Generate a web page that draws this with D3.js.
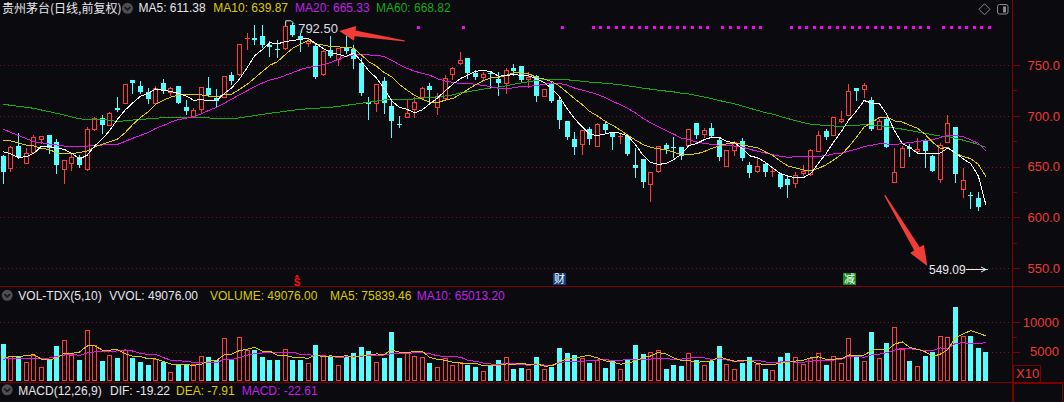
<!DOCTYPE html>
<html>
<head>
<meta charset="utf-8">
<script src="https://cdn.jsdelivr.net/npm/d3@7"></script>
<style>
  html, body { margin: 0; padding: 0; background: #0b0b0f; overflow: hidden; }
  svg { display: block; }
  text { font-family: "Liberation Sans", Arial, "Noto Sans CJK SC", sans-serif; }
</style>
</head>
<body>
<div id="chart"></div>
<script>
// daily bars (price, 前复权)
const open = [660.4,648.3,670.3,653.9,664.7,677.5,681.1,673.9,647.7,653.9,659.2,647.7,686.7,697.5,691.3,707.4,712.3,735.3,729.4,723.8,
  712.3,732.6,723.8,729.4,708.4,700.2,706.4,727.1,717.2,718.9,740.2,740.8,775.3,776.6,778.6,769.7,765.4,766.4,789.4,778.6,
  772,768.7,740.8,764.8,755.6,767,765.4,752.3,713.3,712.3,734.3,709.7,691.6,699.2,706.4,718.9,729.4,709,717.2,741.2,
  751.7,756.6,742.5,738.5,741.8,736.2,732,747.4,749,735.9,739.2,719.5,732,715.6,694.9,676.9,671.9,687,670.6,692,
  682.8,678.8,680.1,651.6,657.5,632.6,646,671.3,669,669,671.3,692.6,681.8,688.3,676.2,651,666.4,675.6,651.6,645.7,
  652.6,645.1,642.8,637.5,633.6,644.1,642.5,665.7,685.1,681.1,694.6,700.8,727.1,726.1,715.6,686.7,696.6,634.6,650,669.7,
  665.7,675.2,660.5,637.5,674.6,688.7,627.7,621.8,618.8,549.09];
const high = [661,670.3,682.8,668,681.1,679.8,681.1,677.2,656.5,663.1,661.5,689.3,699.2,700.8,704.1,718.9,731.3,735.3,734.3,727.1,
  729.4,736.2,728.7,729.4,715.6,707.4,728.7,738.5,726.1,739.5,743.5,770.7,781.8,789.4,789.4,774,774.6,792.5,791.7,781.2,
  775.3,771.3,764.8,778.9,766.4,778.6,769.7,756.6,718.9,731,738.5,715.6,699.8,715.6,718.9,728.7,732,722.8,740.2,748.4,
  762.5,756.6,745.1,743.5,743.5,743.5,746.7,750.7,749,743.5,740.2,726.1,733.6,717.2,694.9,683.8,686.1,688.7,693.3,694.3,
  682.8,682.8,680.1,668,657.5,644.4,670.6,672.9,678.8,669,686.7,692.6,687.7,692.6,677.9,666.4,675.6,677.9,654.9,658.2,
  654.9,650,644.1,641.8,645.1,651.6,667.4,685.1,686.7,699.2,705.1,731.3,727.7,732.6,718.2,696.6,699.2,668,670.3,672.3,
  677.9,676.9,661.5,673.6,700.8,688.7,649,625.3,624.6,549.09];
const low = [634.2,646,658.2,653.2,663.1,673,663.1,644.1,634.2,646.7,650,646.7,686.1,682.8,691,705.1,712.3,722.8,722.8,712.3,
  712.3,722.1,720.5,712.3,701.8,699.2,704.1,720.5,709,718.9,731.3,740.2,765.8,770.7,768.1,758.9,757.6,765.8,778.6,764.1,
  768.7,736.9,740.2,758.2,750,762,746.7,720.5,696.9,705.1,703.1,678.8,688.7,699.2,699.2,718.2,713.9,701.8,715.6,735.9,
  750.7,736.9,735.9,735.9,728.7,720.5,722.8,740.2,733.6,728.7,714.9,719.5,713.9,688.3,676.9,662.4,662.4,672.3,670.6,684.4,
  667,672.9,661.5,640.1,630.3,616,645.1,663.8,659.8,657.2,670.3,677.9,679.5,679.5,656.5,651,661.5,656.5,640.1,645.1,
  641.1,641.1,628.7,620.5,629.6,641.8,641.8,665.7,677.2,681.1,693.6,700.8,715.6,718.9,686.1,686.7,669,634.6,650,660.8,
  665.7,650,645.7,635.2,674.6,635.2,620.5,609,607.6,549.09];
const close = [645,669,659.2,663.1,678.8,679.8,668,651.6,656.5,659.8,651.6,686.7,697.5,691,702.5,706.1,731.3,732.6,723.8,716.6,
  727.7,724.4,727.7,713,705.1,705.7,728.7,720.5,714.9,739.5,734.6,770.7,776.6,774.6,769.7,768.1,764.5,788.4,779.5,775.3,
  774,738.5,763.8,759.2,766.4,764,755.6,722.8,712,731,712.3,695.2,691,702.5,713.6,727.1,725.4,719.5,736.9,746.7,
  754.9,742.5,737.9,741.2,740.8,732.6,745.1,744.4,735.3,738.5,719.5,726.1,714.6,695.9,679.5,669.7,686.1,676.9,691.6,686.1,
  679.5,680.1,662.4,649,634.6,644.4,670.6,667.4,668,660.5,686.7,681.1,686.1,680.1,659.8,666.4,674.6,658.2,644.1,650.6,
  645.1,645.7,630.3,632,641.8,645.7,666.4,681.1,678.8,699.2,696.9,724.4,724.4,730.3,686.7,694.9,669.7,644.4,668,667.4,
  667.4,665.4,645.7,671.3,692.6,642.4,637,621.2,610.5,549.09];
// volume in axis units (x10 hands)
const volume = [6219,4303,4129,3258,4477,2387,3548,5871,7032,4477,3606,8658,6045,3432,4477,3955,5174,3897,3142,2735,
  3723,3142,1574,2851,2735,2851,4303,4129,3548,7206,3548,7381,5174,5290,4013,3548,3606,5464,3548,3606,
  3026,6045,4477,4129,2677,4129,4710,5755,5058,3258,3839,8368,3839,4710,4303,4013,2967,2387,3897,2735,
  3258,2735,2387,1690,2677,3606,4129,2096,2270,1980,4129,2096,2387,5522,4710,4477,3839,2967,3548,2212,
  3432,2096,3548,6045,4651,4884,5174,2096,2735,2561,4826,3548,2735,3432,5871,2851,1980,2967,4129,2851,
  2096,1864,4129,4826,4013,2851,3897,4826,2735,4245,3084,7206,4013,3432,8310,3897,6394,9129,5464,3432,
  2503,4303,5000,7555,7381,12549,7555,7613,5522,4908];

// moving-average values before a full window exists: [bar index, value]
const ma5Head = [[0,664.7],[1,662.5],[2,659],[3,659.8]];
const ma10Head = [[0,675.9],[1,675.2],[2,673.3],[3,671.3],[4,670.3],[5,668],[6,667],[7,663.5],[8,662.5]];
const ma20Head = [[0,686.7],[4,674.6],[6,672.3],[8,670.3],[10,669.7],[13,671.3],[15,671.9],[17,677.9]];
const ma60Head = [[0,711.3],[4,707.4],[8,700.8],[10,696.9],[13,696.6],[15,694.3],[17,695.9],[21,698.2],[26,698.2],
  [30,696.9],[35,702.5],[39,706.4],[43,708.4],[46,711.3],[50,715.6],[54,716.6],[58,719.5]];
const vma5Head = [[0,4013],[1,4100],[2,4129],[3,4300]];
const vma10Head = [[0,3723],[2,3780],[4,3839],[6,3897],[8,4400]];

// signal dots on top row, and event badges
const signalDots = [54,60,73,77,78,79,80,81,82,83,84,85,86,87,88,89,90,91,92,94,95,96,97,98,99,
  103,104,105,106,107,108,109,110,111,112,113,114,115,116,117,118,119,120,121,123,124,125,126,127,128,129];
const badges = [{i: 73, t: '财', fill: '#0f3f7c'}, {i: 111, t: '减', fill: '#168c16'}];
const priceTicks = [550, 600, 650, 700, 750];
const volTicks = [5000, 10000];

const W = 1064, H = 402;
const AX = 1012;
const BG = '#0b0b0f', RED = '#ff3c3c', CYAN = '#54ffff', LINE = '#7c0000', GRID = '#6e1818', LABEL = '#ec3a36';
const C_MA5 = '#ffffff', C_MA10 = '#dcca00', C_MA20 = '#e414e4', C_MA60 = '#16aa16';

const N = close.length;
const xb = d3.scaleBand().domain(d3.range(N)).range([-0.5, 989.8]).paddingInner(0.3).paddingOuter(0.15);
const xc = i => xb(i) + xb.bandwidth() / 2;
const xf = d3.scaleLinear().domain([0, N - 1]).range([xc(0), xc(N - 1)]);
const y = d3.scaleLinear().domain([550, 750]).range([268.3, 65]);
const vy = d3.scaleLinear().domain([0, 10000]).range([381, 322]);

const svg = d3.select('#chart').append('svg').attr('width', W).attr('height', H);
svg.append('rect').attr('width', W).attr('height', H).attr('fill', BG);

// grid
const grid = svg.append('g').attr('stroke', GRID).attr('stroke-dasharray', '1,3').attr('shape-rendering', 'crispEdges');
grid.selectAll('.pg').data(priceTicks).enter().append('line')
  .attr('x1', 0).attr('x2', AX).attr('y1', d => Math.round(y(d)) + 0.5).attr('y2', d => Math.round(y(d)) + 0.5);
grid.selectAll('.vg').data(volTicks).enter().append('line')
  .attr('x1', 0).attr('x2', AX).attr('y1', d => Math.round(vy(d)) + 0.5).attr('y2', d => Math.round(vy(d)) + 0.5);

// panel frame
const frame = svg.append('g').attr('stroke', LINE).attr('shape-rendering', 'crispEdges');
frame.append('line').attr('x1', 0).attr('x2', W).attr('y1', 286.5).attr('y2', 286.5);
frame.append('line').attr('x1', 0).attr('x2', W).attr('y1', 382.5).attr('y2', 382.5);
frame.append('line').attr('x1', AX + 0.5).attr('x2', AX + 0.5).attr('y1', 0).attr('y2', H);
frame.append('rect').attr('x', AX + 1.5).attr('y', 365.5).attr('width', 27).attr('height', 17).attr('fill', 'none');
frame.append('rect').attr('x', AX + 1.5).attr('y', 383.5).attr('width', 49).attr('height', 20).attr('fill', 'none');

const isUp = i => close[i] > open[i] || (close[i] === open[i] && i > 0 && close[i] >= close[i - 1]);
const left = i => Math.round(xc(i) - 2.5);
const py = v => Math.round(y(v));

// candles
const candles = svg.append('g').attr('shape-rendering', 'crispEdges');
d3.range(N).forEach(i => {
  const g = candles.append('g');
  const x0 = left(i), wx = x0 + 2.5;
  if (isUp(i)) {
    const top = py(close[i]), bot = py(open[i]);
    g.append('line').attr('x1', wx).attr('x2', wx).attr('y1', py(high[i])).attr('y2', top).attr('stroke', RED);
    g.append('line').attr('x1', wx).attr('x2', wx).attr('y1', bot).attr('y2', py(low[i]) + 1).attr('stroke', RED);
    if (bot - top < 2) {
      g.append('line').attr('x1', x0).attr('x2', x0 + 5).attr('y1', top + 0.5).attr('y2', top + 0.5).attr('stroke', RED);
    } else {
      g.append('rect').attr('x', x0 + 0.5).attr('y', top + 0.5).attr('width', 4).attr('height', bot - top)
        .attr('fill', 'none').attr('stroke', RED);
    }
  } else {
    const top = py(open[i]), bot = py(close[i]);
    g.append('line').attr('x1', wx).attr('x2', wx).attr('y1', py(high[i])).attr('y2', py(low[i]) + 1).attr('stroke', CYAN);
    g.append('rect').attr('x', x0).attr('y', top).attr('width', 5).attr('height', Math.max(1, bot - top)).attr('fill', CYAN);
  }
});

// moving averages
function maPoints(src, n, head) {
  const pts = head.map(([i, v]) => ({i, v}));
  for (let i = n - 1; i < src.length; i++) pts.push({i, v: d3.mean(src.slice(i - n + 1, i + 1))});
  return pts;
}
const priceLine = d3.line().x(d => xf(d.i)).y(d => y(d.v));
const volLine = d3.line().x(d => xf(d.i)).y(d => vy(d.v));
const maG = svg.append('g').attr('fill', 'none').attr('stroke-width', 1).attr('shape-rendering', 'crispEdges');
[[60, ma60Head, C_MA60], [20, ma20Head, C_MA20], [10, ma10Head, C_MA10], [5, ma5Head, C_MA5]].forEach(([n, head, c]) => {
  maG.append('path').attr('d', priceLine(maPoints(close, n, head))).attr('stroke', c);
});

// volume bars
const vols = svg.append('g').attr('shape-rendering', 'crispEdges');
d3.range(N).forEach(i => {
  const x0 = left(i), top = Math.round(vy(volume[i])), bot = Math.round(vy(0));
  if (isUp(i)) {
    vols.append('rect').attr('x', x0 + 0.5).attr('y', top + 0.5).attr('width', 4).attr('height', bot - top - 1)
      .attr('fill', 'none').attr('stroke', RED);
  } else {
    vols.append('rect').attr('x', x0).attr('y', top).attr('width', 5).attr('height', bot - top).attr('fill', CYAN);
  }
});
const vmaG = svg.append('g').attr('fill', 'none').attr('stroke-width', 1).attr('shape-rendering', 'crispEdges');
[[10, vma10Head, C_MA20], [5, vma5Head, C_MA10]].forEach(([n, head, c]) => {
  vmaG.append('path').attr('d', volLine(maPoints(volume, n, head))).attr('stroke', c);
});

// signal dots
svg.append('g').selectAll('rect').data(signalDots).enter().append('rect')
  .attr('x', d => Math.round(xc(d) + 3) - 1).attr('y', 26).attr('width', 3).attr('height', 3).attr('fill', '#ff00ff');

// event badges along bottom of price panel
badges.forEach(b => {
  const cx = Math.round(xc(b.i));
  svg.append('rect').attr('x', cx - 6).attr('y', 273).attr('width', 13).attr('height', 12).attr('fill', b.fill);
  svg.append('text').attr('x', cx + 0.5).attr('y', 283).attr('text-anchor', 'middle').attr('fill', '#fff')
    .style('font-family', '"Noto Sans CJK SC"').style('font-size', '11px').text(b.t);
});
{
  const sx = Math.round(xc(38)) + 4;
  svg.append('path').attr('d', `M${sx - 2.5},277.5 L${sx},274.5 L${sx + 2.5},277.5 Z`).attr('fill', '#ff1010');
  svg.append('text').attr('x', sx).attr('y', 286).attr('text-anchor', 'middle').attr('fill', '#ff1010')
    .style('font-size', '10px').style('font-weight', 'bold').text('S');
}

// max / min markers
{
  const hi = d3.maxIndex(high), lo = d3.minIndex(low);
  const hx = xc(hi), hy = y(high[hi]);
  svg.append('path').attr('d', `M${hx + 0.5},${hy + 4} V${hy - 1} H${hx + 6} L${hx + 9},${hy + 2}`)
    .attr('fill', 'none').attr('stroke', '#d8dde6');
  svg.append('text').attr('x', hx + 13).attr('y', hy + 11).attr('fill', '#d8dde6').style('font-size', '13px')
    .text(high[hi].toFixed(2));
  const lx = xc(lo), ly = Math.round(y(low[lo])) + 0.5;
  svg.append('text').attr('x', lx - 57).attr('y', ly + 4.5).attr('fill', '#e8eaee').style('font-size', '12px')
    .text(low[lo].toFixed(2));
  svg.append('path').attr('d', `M${lx - 20},${ly} H${lx} M${lx - 5},${ly - 2.5} L${lx},${ly} L${lx - 5},${ly + 2.5}`)
    .attr('fill', 'none').attr('stroke', '#e8eaee');
}

// hand-drawn red arrows
function arrowPoly(t, p, L, hw, s1, s0) {
  const dx = p[0] - t[0], dy = p[1] - t[1], len = Math.hypot(dx, dy);
  const ux = dx / len, uy = dy / len, nx = -uy, ny = ux;
  const bx = p[0] - ux * L, by = p[1] - uy * L;
  return [[t[0] + nx * s0, t[1] + ny * s0], [bx + nx * s1, by + ny * s1], [bx + nx * hw, by + ny * hw], p,
    [bx - nx * hw, by - ny * hw], [bx - nx * s1, by - ny * s1], [t[0] - nx * s0, t[1] - ny * s0]];
}
const arrowLine = d3.line();
svg.append('path').attr('fill', '#f23c36')
  .attr('d', arrowLine(arrowPoly([xf(52.7), y(773.6)], [xf(44.1), y(783.5)], 16, 7.5, 2.8, 0.6)) + 'Z');
svg.append('path').attr('fill', '#f23c36')
  .attr('d', arrowLine(arrowPoly([xf(115.7), y(622)], [xf(121.3), y(552.2)], 20, 8, 3.2, 0.6)) + 'Z');

// right axis
const axG = svg.append('g');
axG.selectAll('.pl').data(priceTicks).enter().append('text')
  .attr('x', 1060).attr('y', d => y(d) + 4.7).attr('text-anchor', 'end').attr('fill', LABEL)
  .style('font-size', '13px').text(d => d.toFixed(1));
axG.selectAll('.vl').data(volTicks).enter().append('text')
  .attr('x', 1059).attr('y', d => vy(d) + 4.7).attr('text-anchor', 'end').attr('fill', LABEL)
  .style('font-size', '13px').text(d => d);
const tickG = axG.append('g').attr('stroke', LINE).attr('shape-rendering', 'crispEdges');
d3.range(550, 751, 25).forEach(v => {
  tickG.append('line').attr('x1', AX + 1).attr('x2', v % 50 ? AX + 5 : AX + 8)
    .attr('y1', Math.round(y(v)) + 0.5).attr('y2', Math.round(y(v)) + 0.5);
});
[5000, 7500, 10000].forEach(v => {
  tickG.append('line').attr('x1', AX + 1).attr('x2', v % 5000 ? AX + 5 : AX + 8)
    .attr('y1', Math.round(vy(v)) + 0.5).attr('y2', Math.round(vy(v)) + 0.5);
});
axG.append('text').attr('x', 1016).attr('y', 378).attr('fill', LABEL).style('font-size', '13px').text('X10');

// headers
function chevron(cx, cy) {
  svg.append('circle').attr('cx', cx).attr('cy', cy).attr('r', 5.5).attr('fill', '#4e4e52');
  svg.append('path').attr('d', `M${cx - 2.8},${cy - 1.2} L${cx},${cy + 1.6} L${cx + 2.8},${cy - 1.2}`)
    .attr('fill', 'none').attr('stroke', '#15151a').attr('stroke-width', 1.6);
}
function header(items, base) {
  items.forEach(([x, t, c]) => {
    svg.append('text').attr('x', x).attr('y', base).attr('fill', c).style('font-size', '12px').text(t);
  });
}
svg.append('text').attr('x', 2).attr('y', 13).attr('fill', '#e8e8ec')
  .style('font-family', '"Noto Sans CJK SC", sans-serif').style('font-size', '12px').text('贵州茅台(日线,前复权)');
chevron(127.5, 8.3);
header([[138.5, 'MA5: 611.38', '#e6e6ea'], [213.3, 'MA10: 639.87', C_MA10], [295, 'MA20: 665.33', '#c020e8'],
  [376, 'MA60: 668.82', C_MA60]], 11.5);
chevron(7.2, 295.3);
header([[18.3, 'VOL-TDX(5,10)', '#e6e6ea'], [109.3, 'VVOL: 49076.00', '#e6e6ea'], [210, 'VOLUME: 49076.00', C_MA10],
  [330, 'MA5: 75839.46', C_MA10], [416.7, 'MA10: 65013.20', '#c020e8']], 300);
chevron(7.2, 389.8);
header([[18.3, 'MACD(12,26,9)', '#e6e6ea'], [110, 'DIF: -19.22', '#e6e6ea'], [176, 'DEA: -7.91', C_MA10],
  [241.7, 'MACD: -22.61', '#c020e8']], 395);

// top-right icons
svg.append('path').attr('d', 'M984.5,3.8 L990,9.3 L984.5,14.8 L979,9.3 Z').attr('fill', 'none').attr('stroke', '#8a8a8e');
svg.append('rect').attr('x', 997.5).attr('y', 4.5).attr('width', 10.5).attr('height', 9.5).attr('rx', 2)
  .attr('fill', 'none').attr('stroke', '#8a8a8e');
svg.append('rect').attr('x', 1003).attr('y', 6.5).attr('width', 3).attr('height', 6).attr('fill', '#8a8a8e');
</script>
</body>
</html>
